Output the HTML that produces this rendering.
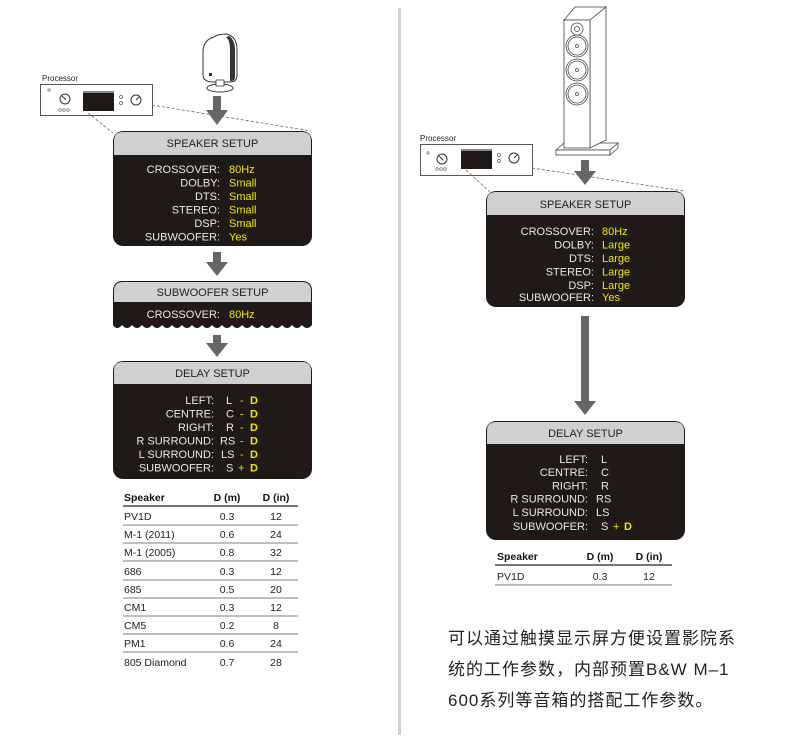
<!DOCTYPE html>
<html><head><meta charset="utf-8"><style>
html,body{margin:0;padding:0;background:#fff}
svg{display:block}
text{font-family:"Liberation Sans",Arial,sans-serif}
.l{fill:#e8e8e8;font-size:11px;text-anchor:end}
.v{fill:#f2e600;font-size:11px}
.w{fill:#e8e8e8;font-size:11px}
.h{fill:#222;font-size:11px;text-anchor:middle}
.t{fill:#222;font-size:10.5px}
.tb{fill:#111;font-size:10.5px;font-weight:bold}
.c{text-anchor:middle}
.cn{font-family:"Liberation Sans","Noto Sans CJK SC",sans-serif;font-size:17px;fill:#222;letter-spacing:1px}
</style></head><body>
<svg width="790" height="742" viewBox="0 0 790 742" xmlns="http://www.w3.org/2000/svg">
<defs>
<g id="arrowhead"></g>
</defs>
<!-- divider -->
<rect x="398" y="8" width="3" height="727" fill="#cfcfcf"/>

<!-- LEFT processor -->
<text x="42" y="81" font-size="8" fill="#222">Processor</text>
<rect x="40.5" y="84.5" width="112" height="31" fill="#fff" stroke="#555"/>
<circle cx="49" cy="90" r="1.2" fill="none" stroke="#555" stroke-width="0.6"/>
<circle cx="65" cy="99" r="5" fill="none" stroke="#333"/>
<line x1="62" y1="96" x2="66" y2="100" stroke="#333"/>
<circle cx="60" cy="110" r="1.3" fill="none" stroke="#555" stroke-width="0.6"/>
<circle cx="64" cy="110" r="1.3" fill="none" stroke="#555" stroke-width="0.6"/>
<circle cx="68" cy="110" r="1.3" fill="none" stroke="#555" stroke-width="0.6"/>
<rect x="83" y="91" width="31" height="20" fill="#1f1a17"/>
<rect x="83" y="91" width="31" height="2" fill="#888"/>
<circle cx="121" cy="97" r="1.5" fill="none" stroke="#555" stroke-width="0.7"/>
<circle cx="121" cy="103" r="1.5" fill="none" stroke="#555" stroke-width="0.7"/>
<circle cx="136" cy="100" r="5" fill="none" stroke="#333"/>
<line x1="136" y1="100" x2="139" y2="97" stroke="#333"/>
<line x1="88" y1="113" x2="113" y2="133" stroke="#666" stroke-dasharray="3,2" stroke-width="0.8"/>
<line x1="152" y1="105" x2="311" y2="131" stroke="#666" stroke-dasharray="3,2" stroke-width="0.8"/>

<!-- small speaker -->
<path d="M214,37 Q203,40 203,52 L203,75 Q203,82 214,82 L230,82 Q237,82 237,75 L237,50 Q237,36 226,34 Q218,34 214,37 Z" fill="#fff" stroke="#333"/>
<path d="M229,36 Q235,40 235,50 L235,77 Q235,81 231,81 L230,81 L230,50 Q230,40 226,37 Z" fill="#333"/>
<rect x="209" y="73" width="3" height="3" fill="#333"/>
<ellipse cx="220" cy="88" rx="13" ry="4" fill="#fff" stroke="#333"/>
<rect x="216" y="80" width="8" height="6" fill="#fff" stroke="#333" stroke-width="0.8"/>

<!-- arrows left -->
<g fill="#666">
<rect x="213" y="96" width="8" height="14"/><polygon points="206,110 228,110 217,125"/>
<rect x="213" y="252" width="8" height="11"/><polygon points="206,262 228,262 217,276"/>
<rect x="213" y="335" width="8" height="9"/><polygon points="206,343 228,343 217,357"/>
</g>

<!-- SPEAKER SETUP left -->
<rect x="113" y="131" width="199" height="115" rx="10" fill="#1f1a17"/>
<path d="M114,155 V141 Q114,132 123,132 H302 Q311,132 311,141 V155 Z" fill="#d0d0d0"/>
<text x="212.5" y="147" class="h">SPEAKER SETUP</text>
<text x="220" y="173" class="l">CROSSOVER:</text><text x="229" y="173" class="v">80Hz</text>
<text x="220" y="186.5" class="l">DOLBY:</text><text x="229" y="186.5" class="v">Small</text>
<text x="220" y="200" class="l">DTS:</text><text x="229" y="200" class="v">Small</text>
<text x="220" y="213.5" class="l">STEREO:</text><text x="229" y="213.5" class="v">Small</text>
<text x="220" y="227" class="l">DSP:</text><text x="229" y="227" class="v">Small</text>
<text x="220" y="240.5" class="l">SUBWOOFER:</text><text x="229" y="240.5" class="v">Yes</text>

<!-- SUBWOOFER SETUP -->
<path d="M113,291 Q113,281 123,281 H302 Q312,281 312,291 V325
Q307,331 302,325 Q297,331 292,325 Q287,331 282,325 Q277,331 272,325 Q267,331 262,325 Q257,331 252,325 Q247,331 242,325 Q237,331 232,325 Q227,331 222,325 Q217,331 212,325 Q207,331 202,325 Q197,331 192,325 Q187,331 182,325 Q177,331 172,325 Q167,331 162,325 Q157,331 152,325 Q147,331 142,325 Q137,331 132,325 Q127,331 122,325 Q117,331 113,325 Z" fill="#1f1a17"/>
<path d="M114,302 V291 Q114,282 123,282 H302 Q311,282 311,291 V302 Z" fill="#d0d0d0"/>
<text x="212.5" y="296" class="h">SUBWOOFER SETUP</text>
<text x="220" y="318" class="l">CROSSOVER:</text><text x="229" y="318" class="v">80Hz</text>

<!-- DELAY SETUP left -->
<rect x="113" y="361" width="199" height="118" rx="10" fill="#1f1a17"/>
<path d="M114,384 V371 Q114,362 123,362 H302 Q311,362 311,371 V384 Z" fill="#d0d0d0"/>
<text x="212.5" y="377" class="h">DELAY SETUP</text>
<g>
<text x="214" y="404" class="l">LEFT:</text><text x="226" y="404" class="w">L</text><text x="240" y="404" class="v">-</text><text x="250" y="404" class="v" font-weight="bold">D</text>
<text x="214" y="417.5" class="l">CENTRE:</text><text x="226" y="417.5" class="w">C</text><text x="240" y="417.5" class="v">-</text><text x="250" y="417.5" class="v" font-weight="bold">D</text>
<text x="214" y="431" class="l">RIGHT:</text><text x="226" y="431" class="w">R</text><text x="240" y="431" class="v">-</text><text x="250" y="431" class="v" font-weight="bold">D</text>
<text x="214" y="444.5" class="l">R SURROUND:</text><text x="220" y="444.5" class="w">RS</text><text x="240" y="444.5" class="v">-</text><text x="250" y="444.5" class="v" font-weight="bold">D</text>
<text x="214" y="458" class="l">L SURROUND:</text><text x="221" y="458" class="w">LS</text><text x="240" y="458" class="v">-</text><text x="250" y="458" class="v" font-weight="bold">D</text>
<text x="214" y="471.5" class="l">SUBWOOFER:</text><text x="226" y="471.5" class="w">S</text><text x="238" y="471.5" class="v">+</text><text x="250" y="471.5" class="v" font-weight="bold">D</text>
</g>

<!-- table left -->
<text x="124" y="501" class="tb">Speaker</text><text x="227" y="501" class="tb c">D (m)</text><text x="276" y="501" class="tb c">D (in)</text>
<line x1="123" y1="506" x2="298" y2="506" stroke="#222" stroke-width="1.2"/>
<g class="t">
<text x="124" y="520">PV1D</text><text x="227" y="520" class="c">0.3</text><text x="276" y="520" class="c">12</text>
<text x="124" y="538">M-1 (2011)</text><text x="227" y="538" class="c">0.6</text><text x="276" y="538" class="c">24</text>
<text x="124" y="556">M-1 (2005)</text><text x="227" y="556" class="c">0.8</text><text x="276" y="556" class="c">32</text>
<text x="124" y="575">686</text><text x="227" y="575" class="c">0.3</text><text x="276" y="575" class="c">12</text>
<text x="124" y="593">685</text><text x="227" y="593" class="c">0.5</text><text x="276" y="593" class="c">20</text>
<text x="124" y="611">CM1</text><text x="227" y="611" class="c">0.3</text><text x="276" y="611" class="c">12</text>
<text x="124" y="629">CM5</text><text x="227" y="629" class="c">0.2</text><text x="276" y="629" class="c">8</text>
<text x="124" y="647">PM1</text><text x="227" y="647" class="c">0.6</text><text x="276" y="647" class="c">24</text>
<text x="124" y="666">805 Diamond</text><text x="227" y="666" class="c">0.7</text><text x="276" y="666" class="c">28</text>
</g>
<g stroke="#555" stroke-width="0.8">
<line x1="123" y1="525" x2="298" y2="525"/><line x1="123" y1="543" x2="298" y2="543"/>
<line x1="123" y1="561" x2="298" y2="561"/><line x1="123" y1="580" x2="298" y2="580"/>
<line x1="123" y1="598" x2="298" y2="598"/><line x1="123" y1="616" x2="298" y2="616"/>
<line x1="123" y1="634" x2="298" y2="634"/><line x1="123" y1="652" x2="298" y2="652"/>
</g>

<!-- RIGHT tower speaker -->
<g fill="#fff" stroke="#444" stroke-width="0.8">
<polygon points="556,150 564,143 618,143 610,150"/>
<rect x="556" y="150" width="54" height="5"/>
<polygon points="610,150 618,143 618,148 610,155"/>
<polygon points="564,20 575,7 606,7 590,20"/>
<polygon points="590,20 606,7 606,140 590,148"/>
<rect x="564" y="20" width="26" height="128"/>
<circle cx="577" cy="29" r="6"/><circle cx="577" cy="29" r="2.5"/>
<circle cx="577" cy="46" r="11"/><circle cx="577" cy="46" r="9"/><circle cx="577" cy="46" r="1.5"/>
<circle cx="577" cy="70" r="11"/><circle cx="577" cy="70" r="9"/><circle cx="577" cy="70" r="1.5"/>
<circle cx="577" cy="94" r="11"/><circle cx="577" cy="94" r="9"/><circle cx="577" cy="94" r="1.5"/>
</g>

<!-- right processor -->
<text x="420" y="141" font-size="8" fill="#222">Processor</text>
<rect x="420.5" y="144.5" width="112" height="31" fill="#fff" stroke="#555"/>
<circle cx="428" cy="153" r="1.2" fill="none" stroke="#555" stroke-width="0.6"/>
<circle cx="442" cy="159" r="5" fill="none" stroke="#333"/>
<line x1="439" y1="156" x2="443" y2="160" stroke="#333"/>
<circle cx="437" cy="169" r="1.3" fill="none" stroke="#555" stroke-width="0.6"/>
<circle cx="441" cy="169" r="1.3" fill="none" stroke="#555" stroke-width="0.6"/>
<circle cx="445" cy="169" r="1.3" fill="none" stroke="#555" stroke-width="0.6"/>
<rect x="461" y="149" width="31" height="20" fill="#1f1a17"/>
<rect x="461" y="149" width="31" height="2" fill="#888"/>
<circle cx="499" cy="155" r="1.5" fill="none" stroke="#555" stroke-width="0.7"/>
<circle cx="499" cy="161" r="1.5" fill="none" stroke="#555" stroke-width="0.7"/>
<circle cx="514" cy="158" r="5" fill="none" stroke="#333"/>
<line x1="514" y1="158" x2="517" y2="155" stroke="#333"/>
<line x1="466" y1="170" x2="490" y2="192" stroke="#666" stroke-dasharray="3,2" stroke-width="0.8"/>
<line x1="532" y1="168" x2="684" y2="191" stroke="#666" stroke-dasharray="3,2" stroke-width="0.8"/>

<!-- right arrows -->
<g fill="#666">
<rect x="581" y="160" width="8" height="12"/><polygon points="574,171 596,171 585,185"/>
<rect x="581" y="316" width="8" height="86"/><polygon points="574,401 596,401 585,415"/>
</g>

<!-- SPEAKER SETUP right -->
<rect x="486" y="191" width="199" height="116" rx="10" fill="#1f1a17"/>
<path d="M487,215 V201 Q487,192 496,192 H675 Q684,192 684,201 V215 Z" fill="#d0d0d0"/>
<text x="585.5" y="208" class="h">SPEAKER SETUP</text>
<text x="594" y="235" class="l">CROSSOVER:</text><text x="602" y="235" class="v">80Hz</text>
<text x="594" y="248.5" class="l">DOLBY:</text><text x="602" y="248.5" class="v">Large</text>
<text x="594" y="262" class="l">DTS:</text><text x="602" y="262" class="v">Large</text>
<text x="594" y="275.5" class="l">STEREO:</text><text x="602" y="275.5" class="v">Large</text>
<text x="594" y="289" class="l">DSP:</text><text x="602" y="289" class="v">Large</text>
<text x="594" y="301" class="l">SUBWOOFER:</text><text x="602" y="301" class="v">Yes</text>

<!-- DELAY SETUP right -->
<rect x="486" y="421" width="199" height="119" rx="10" fill="#1f1a17"/>
<path d="M487,444 V431 Q487,422 496,422 H675 Q684,422 684,431 V444 Z" fill="#d0d0d0"/>
<text x="585.5" y="437" class="h">DELAY SETUP</text>
<text x="588" y="463" class="l">LEFT:</text><text x="601" y="463" class="w">L</text>
<text x="588" y="476" class="l">CENTRE:</text><text x="601" y="476" class="w">C</text>
<text x="588" y="489.5" class="l">RIGHT:</text><text x="601" y="489.5" class="w">R</text>
<text x="588" y="502.5" class="l">R SURROUND:</text><text x="596" y="502.5" class="w">RS</text>
<text x="588" y="516" class="l">L SURROUND:</text><text x="596" y="516" class="w">LS</text>
<text x="588" y="530" class="l">SUBWOOFER:</text><text x="601" y="530" class="w">S</text><text x="613" y="530" class="v">+</text><text x="624" y="530" class="v" font-weight="bold">D</text>

<!-- table right -->
<text x="497" y="560" class="tb">Speaker</text><text x="600" y="560" class="tb c">D (m)</text><text x="649" y="560" class="tb c">D (in)</text>
<line x1="495" y1="565" x2="672" y2="565" stroke="#222" stroke-width="1.2"/>
<text x="497" y="580" class="t">PV1D</text><text x="600" y="580" class="t c">0.3</text><text x="649" y="580" class="t c">12</text>
<line x1="495" y1="585" x2="672" y2="585" stroke="#555" stroke-width="0.8"/>

<!-- Chinese text -->
<text x="448" y="644" class="cn">可以通过触摸显示屏方便设置影院系</text>
<text x="448" y="675" class="cn">统的工作参数，内部预置B&amp;W M–1</text>
<text x="448" y="706" class="cn">600系列等音箱的搭配工作参数。</text>
</svg>
</body></html>
